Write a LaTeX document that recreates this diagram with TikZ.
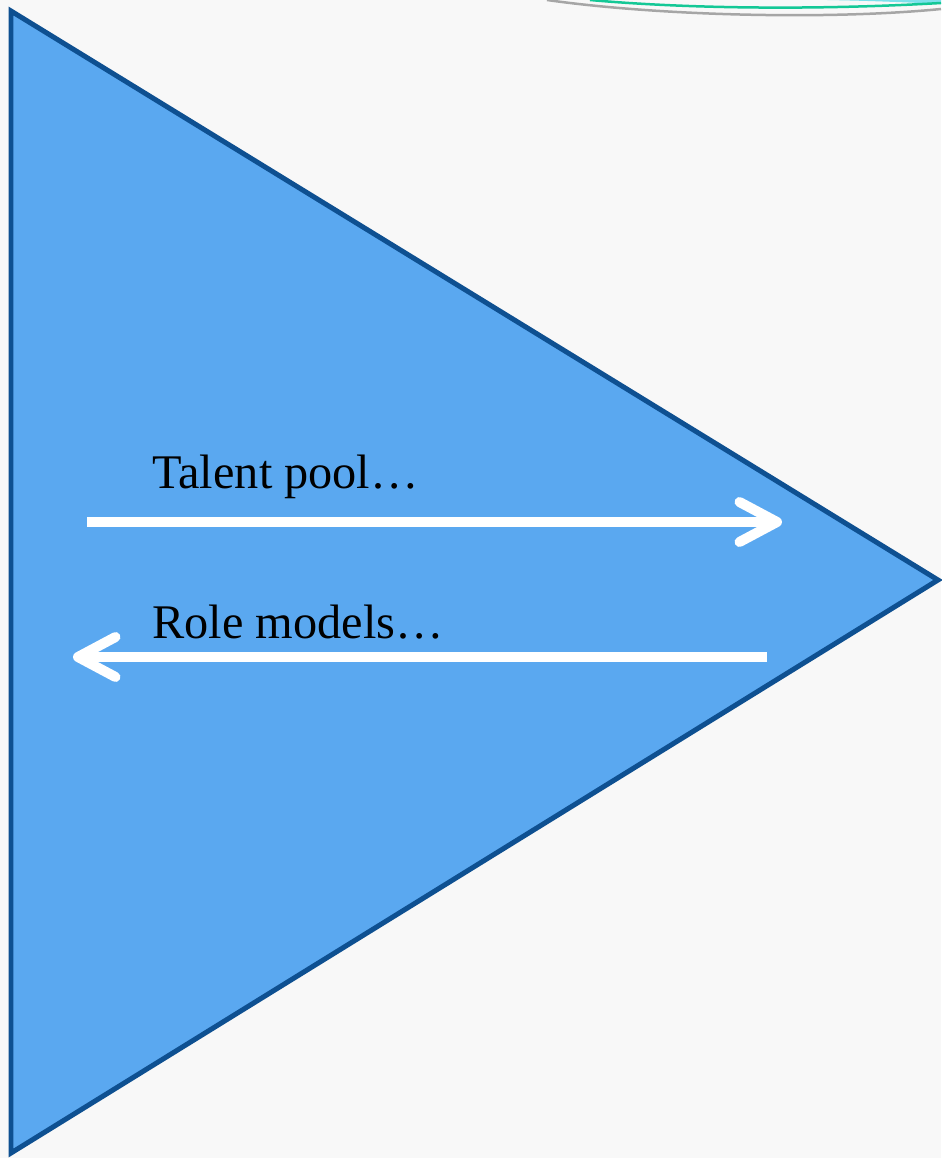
\documentclass[tikz,border=0pt]{standalone}
\usepackage{fontspec}
\setmainfont{Liberation Serif}
\usetikzlibrary{arrows.meta}
\definecolor{paper}{RGB}{248,248,248}
\definecolor{wedge}{RGB}{90,168,240}
\definecolor{wedgeline}{RGB}{14,80,145}
\definecolor{swoosh}{RGB}{20,200,150}
\definecolor{swooshfill}{RGB}{125,225,235}
\tikzstyle{label}=[anchor=base west, inner sep=0pt, font=\fontsize{27.5}{31}\selectfont]
\tikzset{flow/.style={white, line width=0.2cm, -{Straight Barb[length=0.75cm,width=0.8cm,round]}}}

\begin{document}
\begin{tikzpicture}[x=0.02cm,y=-0.02cm]
  \useasboundingbox (0,0) rectangle (941,1158);
  \fill[paper] (0,0) rectangle (941,1158);

  %% Swoosh in the corner
  \fill[swooshfill] (827,0) .. controls (880,1) and (920,3) .. (941,4) -- (941,0) -- cycle;
  \draw[gray!70, line width=0.05cm] (547,0) .. controls (660,16) and (830,20) .. (941,9);
  \draw[swoosh, line width=0.05cm] (590,0) .. controls (690,9) and (820,10) .. (941,3);

  %% Wedge
  \draw[fill=wedge, draw=wedgeline, line width=0.1cm, line join=miter]
    (11,11) coordinate (W1) -- (938,580) coordinate (W2) -- (11,1153) coordinate (W3) -- cycle;

  %% Labels
  \draw (152,488) node[label] (Talent) {Talent pool…};
  \draw (152,638) node[label] (Role) {Role models…};

  %% Arrows
  \coordinate (T1) at (87,522);
  \coordinate (T2) at (782,522);
  \coordinate (R1) at (767,657);
  \coordinate (R2) at (73,657);
  \draw[flow] (T1) -- (T2);
  \draw[flow] (R1) -- (R2);
\end{tikzpicture}
\end{document}
